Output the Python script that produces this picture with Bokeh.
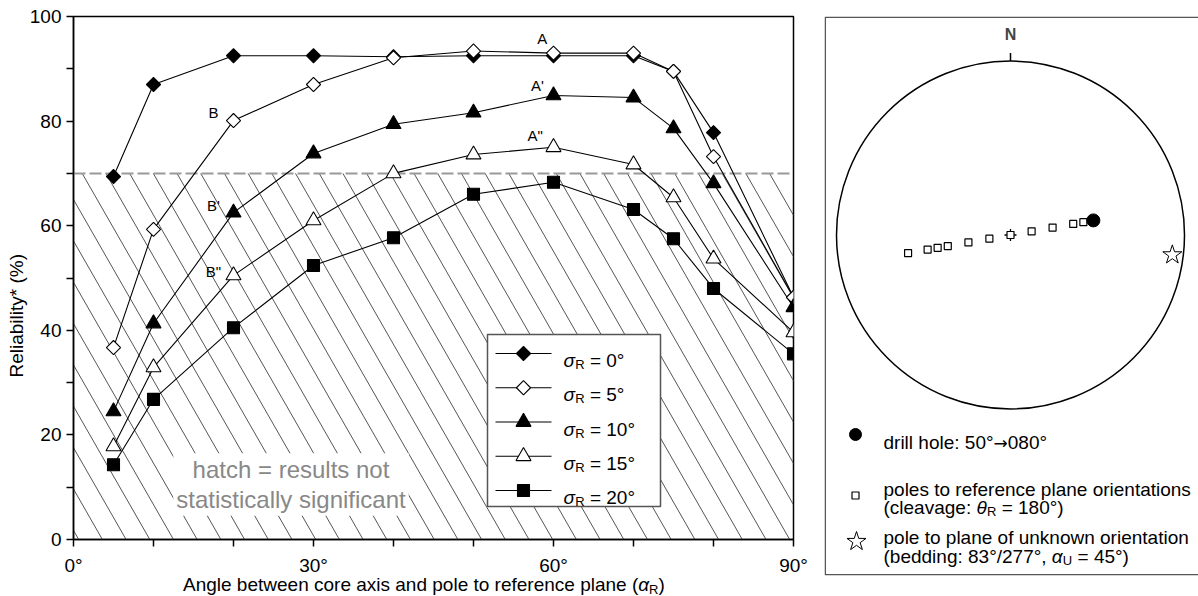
import numpy as np
from bokeh.plotting import figure
from bokeh.models import Range1d, FixedTicker, Label, Title, Div
from bokeh.layouts import row, column
from bokeh.embed import file_html
from bokeh.resources import INLINE

FONT = "Liberation Sans"

# ---------------- data ----------------
ALPHA_R = [5, 10, 20, 30, 40, 50, 60, 70, 75, 80, 90]
REL_SIGMA_0 = [69.4, 87.0, 92.5, 92.5, 92.3, 92.5, 92.5, 92.5, 89.5, 77.8, 46.3]
REL_SIGMA_5 = [36.7, 59.3, 80.1, 87.0, 92.1, 93.4, 93.0, 93.0, 89.5, 73.2, 46.3]
REL_SIGMA_10 = [24.5, 41.3, 62.5, 73.8, 79.4, 81.6, 84.9, 84.5, 78.6, 68.1, 44.4]
REL_SIGMA_15 = [17.8, 32.9, 50.5, 61.0, 70.0, 73.6, 75.0, 71.7, 65.4, 53.7, 39.6]
REL_SIGMA_20 = [14.3, 26.8, 40.5, 52.4, 57.7, 66.0, 68.3, 63.1, 57.5, 48.0, 35.5]
SIGMA_R = [0, 5, 10, 15, 20]
SIGNIFICANCE = 70
X_TICKS = list(range(0, 91, 10))
X_TICK_LABELS = {0: "0°", 30: "30°", 60: "60°", 90: "90°"}
Y_TICKS = list(range(0, 101, 10))
Y_TICK_LABELS = {0: "0", 20: "20", 40: "40", 60: "60", 80: "80", 100: "100"}
CURVE_TAGS = ["A", "A'", 'A"', "B", "B'", 'B"']
CURVE_TAG_X = [58.6, 58.0, 57.7, 17.5, 17.5, 17.5]
CURVE_TAG_Y = [95.8, 86.8, 77.2, 81.7, 63.9, 51.3]

DRILL_PLUNGE = 50
DRILL_TREND = 80
POLE_ALPHA = [5, 10, 20, 30, 40, 50, 60, 70, 75, 80, 90]
MARKED_POLE_ALPHA = 40
CLEAVAGE_THETA = 180
BEDDING_DIP = 83
BEDDING_DIPDIR = 277
BEDDING_ALPHA = 45

SERIES = [REL_SIGMA_0, REL_SIGMA_5, REL_SIGMA_10, REL_SIGMA_15, REL_SIGMA_20]
# marker, angle, fill, size
STYLES = [("square", np.pi / 4, "black", 10),
          ("square", np.pi / 4, "white", 10),
          ("triangle", 0.0, "black", 15),
          ("triangle", 0.0, "white", 15),
          ("square", 0.0, "black", 12)]

# ---------------- text width helper (Arial / Liberation Sans metrics) ----------------
W = {' ': 278, '(': 333, ')': 333, ':': 278, ',': 278, '/': 278, '=': 584, '°': 400,
     '*': 389, '%': 889, 'A': 667, 'B': 667, 'N': 722, 'R': 722, 'U': 722,
     'a': 556, 'b': 556, 'c': 500, 'd': 556, 'e': 556, 'f': 278, 'g': 556, 'h': 556,
     'i': 222, 'j': 222, 'k': 500, 'l': 222, 'm': 833, 'n': 556, 'o': 556, 'p': 556,
     'q': 556, 'r': 333, 's': 500, 't': 278, 'u': 556, 'v': 500, 'w': 722, 'x': 500,
     'y': 500, 'z': 500, 'σ': 617, 'α': 578, 'θ': 556, '→': 838}


def tw(s, size):
    return sum(W.get(c, 556) for c in s) / 1000.0 * size


def rich(fig, conv_x, conv_y, x_px, base_px, parts, color="black"):
    cur = x_px
    for part in parts:
        text, size, style, dy = part[:4]
        font = part[4] if len(part) > 4 else FONT
        lead = len(text) - len(text.lstrip(" "))
        cur += tw(" " * lead, size)
        body = text.strip(" ")
        fig.add_layout(Label(x=conv_x(cur), y=conv_y(base_px + dy), text=body,
                             text_font=font, text_font_size=f"{size}px",
                             text_font_style=style, text_color=color,
                             text_align="left", text_baseline="alphabetic"))
        cur += tw(text.lstrip(" "), size)


# ---------------- left chart ----------------
FL, FR, FT, FB = 73, 793, 16, 539
H = 596
LW = 816


def lx(px):
    return (px - FL) / (FR - FL) * 90.0


def ly(py):
    return (FB - py) / (FB - FT) * 100.0


p = figure(width=LW, height=H, x_range=Range1d(0, 90), y_range=Range1d(0, 100),
           output_backend="svg", toolbar_location=None,
           min_border_left=FL, min_border_right=LW - FR, min_border_top=FT, min_border_bottom=H - FB)
p.background_fill_color = "white"
p.border_fill_color = "white"
p.outline_line_color = "black"
p.outline_line_width = 1.5
p.grid.visible = False

for ax, ticks, labels in ((p.xaxis, X_TICKS, X_TICK_LABELS), (p.yaxis, Y_TICKS, Y_TICK_LABELS)):
    ax.ticker = FixedTicker(ticks=ticks, minor_ticks=[])
    ax.major_label_overrides = {t: labels.get(t, "") for t in ticks}
    ax.axis_line_width = 1.5
    ax.axis_line_color = "black"
    ax.major_tick_line_width = 1.5
    ax.major_tick_line_color = "black"
    ax.major_tick_out = 7
    ax.major_tick_in = 0
    ax.minor_tick_line_color = None
    ax.major_label_text_font = FONT
    ax.major_label_text_font_size = "19px"
    ax.major_label_text_color = "black"
p.xaxis.major_label_standoff = 8
p.yaxis.major_label_standoff = 5

p.add_layout(Title(text="Reliability* (%)", align="left", offset=FB - 377, text_font=FONT,
                   text_font_size="19px", text_font_style="normal", text_color="black",
                   standoff=0), "left")

# hatch of non-significant region
sp_x = 23.7 * 90.0 / (FR - FL)
slope = 1.745 * (100.0 / (FB - FT)) / (90.0 / (FR - FL))
x_first = lx(81.7)
hx0, hy0, hx1, hy1 = [], [], [], []
for k in range(-15, 45):
    xt = x_first + k * sp_x
    xb = xt + SIGNIFICANCE / slope
    if xb < 0 or xt > 90:
        continue
    if xt >= 0:
        a = (xt, SIGNIFICANCE)
    else:
        a = (0.0, SIGNIFICANCE + slope * xt)
    if xb <= 90:
        b = (xb, 0.0)
    else:
        b = (90.0, SIGNIFICANCE - slope * (90 - xt))
    hx0.append(a[0]); hy0.append(a[1]); hx1.append(b[0]); hy1.append(b[1])
p.segment(hx0, hy0, hx1, hy1, line_color="#555555", line_width=1)

p.hspan(y=[SIGNIFICANCE], line_color="#999999", line_width=2, line_dash="12 4")

for vals in SERIES:
    p.line(ALPHA_R, vals, line_color="black", line_width=1.1)
for vals, (mk, ang, fill, size) in zip(SERIES, STYLES):
    p.scatter(ALPHA_R, vals, marker=mk, angle=ang, size=size, fill_color=fill,
              line_color="black", line_width=1.1)

for t, x, y in zip(CURVE_TAGS, CURVE_TAG_X, CURVE_TAG_Y):
    p.add_layout(Label(x=x, y=y, text=t, text_font=FONT, text_font_size="15px",
                       text_align="center", text_baseline="middle", text_color="black"))

# hatch explanation
p.add_layout(Label(x=lx(290.5), y=ly(484), text="hatch = results not\nstatistically significant",
                   text_font=FONT, text_font_size="24px", text_color="#888888",
                   text_align="center", text_baseline="middle", text_line_height=1.1,
                   background_fill_color="white", padding=3))

# legend
p.quad(left=[lx(487)], right=[lx(660)], top=[ly(334)], bottom=[ly(506)],
       fill_color="white", line_color="#555555", line_width=1.5)
for i, (s, (mk, ang, fill, size)) in enumerate(zip(SIGMA_R, STYLES)):
    cy = 353 + 34.25 * i
    p.segment([lx(495)], [ly(cy)], [lx(551)], [ly(cy)], line_color="black", line_width=1.1)
    p.scatter([lx(523)], [ly(cy)], marker=mk, angle=ang, size=size, fill_color=fill,
              line_color="black", line_width=1.1)
    rich(p, lx, ly, 563, cy + 7, [("σ", 19, "italic", 0), ("R", 13, "normal", 4),
                                  (f" = {s}°", 19, "normal", 0)])

# x axis label (HTML, for the subscript)
xlabel = Div(text="Angle between core axis and pole to reference plane "
                  "(<i>α</i><span style='font-size:13px;vertical-align:-3px;line-height:0'>R</span>)",
             width=560, height=21,
             styles={"margin-top": "-21px", "padding-left": "178px", "font-family": FONT,
                     "font-size": "19px", "line-height": "20px", "color": "black",
                     "white-space": "nowrap", "overflow": "visible"})

# ---------------- right panel: equal-area net ----------------
R = 174.0
CX, CY = 1010.0, 234.5
RL, RT, RB = 824, 16, 575
RW = 1198 - LW


def rx(px):
    return (px - CX) / R


def ry(py):
    return (CY - py) / R


def eqarea(plunge, trend):
    pl = np.radians(np.asarray(plunge, dtype=float))
    tr = np.radians(np.asarray(trend, dtype=float))
    r = np.sqrt(2.0) * np.sin((np.pi / 2 - pl) / 2)
    return r * np.sin(tr), r * np.cos(tr)


q = figure(width=RW, height=H, x_range=Range1d(rx(RL), rx(1198)), y_range=Range1d(ry(RB), ry(RT)),
           x_axis_location=None, y_axis_location=None, output_backend="svg", toolbar_location=None,
           min_border_left=RL - LW, min_border_right=0, min_border_top=RT, min_border_bottom=H - RB)
q.background_fill_color = "white"
q.border_fill_color = "white"
q.outline_line_color = None
q.grid.visible = False

q.line([rx(1205), rx(RL + 0.75), rx(RL + 0.75), rx(1205)],
       [ry(RT + 0.75), ry(RT + 0.75), ry(RB - 0.75), ry(RB - 0.75)],
       line_color="#555555", line_width=1.5)

q.circle(x=[0], y=[0], radius=1, fill_color=None, line_color="black", line_width=1.5)
q.segment([0], [1], [0], [1 + 8 / R], line_color="black", line_width=1.5)
q.add_layout(Label(x=0, y=ry(34), text="N", text_font=FONT, text_font_size="16px",
                   text_font_style="bold", text_align="center", text_baseline="middle"))

pole_pl, pole_tr = [], []
for a in POLE_ALPHA:
    pl = DRILL_PLUNGE + a
    tr = DRILL_TREND
    if pl > 90:
        pl = 180 - pl
        tr = DRILL_TREND + 180
    pole_pl.append(pl); pole_tr.append(tr)
px_, py_ = eqarea(pole_pl, pole_tr)
mi = POLE_ALPHA.index(MARKED_POLE_ALPHA)
q.scatter([px_[mi]], [py_[mi]], marker="cross", size=12, line_color="black", line_width=1.3)
q.scatter(px_, py_, marker="square", size=7, fill_color="white", line_color="black", line_width=1.2)

dx, dy = eqarea([DRILL_PLUNGE], [DRILL_TREND])
q.scatter(dx, dy, marker="circle", size=13, fill_color="black", line_color="black")

bx, by = eqarea([90 - BEDDING_DIP], [(BEDDING_DIPDIR + 180) % 360])
q.scatter(bx, by, marker="star", size=20, fill_color="white", line_color="black", line_width=1)

# right legend
q.scatter([rx(855)], [ry(434)], marker="circle", size=12, fill_color="black", line_color="black")
q.scatter([rx(855)], [ry(495)], marker="square", size=7, fill_color="white", line_color="black", line_width=1.2)
q.scatter([rx(856)], [ry(541)], marker="star", size=20, fill_color="white", line_color="black", line_width=1)

rich(q, rx, ry, 883, 442, [(f"drill hole: {DRILL_PLUNGE}°", 19, "normal", 0),
                           ("→", 17, "normal", 0, "DejaVu Sans"),
                           (f"{DRILL_TREND:03d}°", 19, "normal", 0)])
rich(q, rx, ry, 883, 489, [("poles to reference plane orientations", 19, "normal", 0)])
rich(q, rx, ry, 883, 507, [("(cleavage: ", 19, "normal", 0), ("θ", 19, "italic", 0),
                           ("R", 13, "normal", 4), (f" = {CLEAVAGE_THETA}°)", 19, "normal", 0)])
rich(q, rx, ry, 883, 537, [("pole to plane of unknown orientation", 19, "normal", 0)])
rich(q, rx, ry, 883, 556, [(f"(bedding: {BEDDING_DIP}°/{BEDDING_DIPDIR}°, ", 19, "normal", 0),
                           ("α", 19, "italic", 0), ("U", 13, "normal", 4),
                           (f" = {BEDDING_ALPHA}°)", 19, "normal", 0)])

layout = row(column(p, xlabel), q)
open("out.html", "w").write(file_html(layout, INLINE))
